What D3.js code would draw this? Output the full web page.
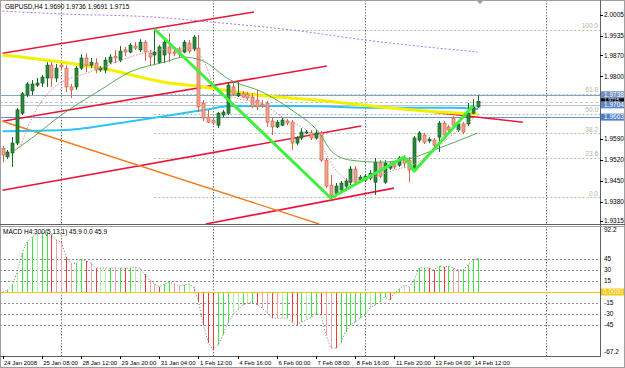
<!DOCTYPE html>
<html><head><meta charset="utf-8">
<script src="https://cdn.jsdelivr.net/npm/d3@7/dist/d3.min.js"></script>
<style>
body{margin:0;background:#fff}
text{font-family:"Liberation Sans",Arial,sans-serif;font-size:6.5px}
text.time{font-size:6px}
</style></head><body>
<svg id="chart" width="625" height="368"></svg>
<script>
// ---- data (GBPUSD H4, 24 Jan - 14 Feb 2008) ----
let open = [1.9559,1.9530,1.9543,1.9576,1.9676,1.9737,1.9751,1.9770,1.9777,1.9794,
	1.9837,1.9794,1.9837,1.9827,1.9764,1.9764,1.9827,1.9861,1.9837,1.9844,1.9821,
	1.9821,1.9847,1.9867,1.9854,1.9888,1.9881,1.9901,1.9888,1.9914,1.9877,
	1.9871,1.9847,1.9871,1.9898,1.9881,1.9888,1.9881,1.9911,1.9891,1.9894,
	1.9710,1.9663,1.9653,1.9636,1.9670,1.9676,1.9764,1.9734,1.9743,1.9740,
	1.9730,1.9720,1.9706,1.9710,1.9650,1.9630,1.9636,1.9650,1.9646,1.9576,1.9593,
	1.9610,1.9610,1.9593,1.9610,1.9519,1.9435,1.9408,1.9419,1.9432,1.9445,
	1.9489,1.9452,1.9452,1.9459,1.9445,1.9509,1.9445,1.9492,1.9506,1.9502,
	1.9526,1.9519,1.9486,1.9586,1.9603,1.9583,1.9586,1.9596,1.9643,1.9630,
	1.9660,1.9620,1.9640,1.9640,1.9676,1.9697]
let high = [1.9566,1.9553,1.9596,1.9694,1.9747,1.9780,1.9787,1.9794,1.9804,1.9847,
	1.9847,1.9841,1.9844,1.9837,1.9774,1.9834,1.9874,1.9877,1.9861,1.9861,1.9834,
	1.9864,1.9874,1.9888,1.9901,1.9898,1.9911,1.9914,1.9924,1.9921,1.9888,
	1.9958,1.9904,1.9921,1.9944,1.9891,1.9898,1.9921,1.9921,1.9938,1.9938,
	1.9720,1.9687,1.9660,1.9680,1.9687,1.9780,1.9780,1.9780,1.9750,1.9747,
	1.9743,1.9754,1.9720,1.9717,1.9663,1.9653,1.9660,1.9656,1.9653,1.9599,1.9626,
	1.9620,1.9620,1.9620,1.9616,1.9526,1.9469,1.9442,1.9449,1.9459,1.9499,
	1.9499,1.9469,1.9472,1.9486,1.9526,1.9519,1.9519,1.9512,1.9512,1.9532,
	1.9536,1.9529,1.9599,1.9616,1.9610,1.9596,1.9593,1.9650,1.9650,1.9636,
	1.9666,1.9646,1.9646,1.9710,1.9723,1.9736]
let low = [1.9512,1.9523,1.9496,1.9569,1.9670,1.9730,1.9737,1.9764,1.9764,1.9764,
	1.9764,1.9780,1.9821,1.9747,1.9727,1.9754,1.9821,1.9814,1.9827,1.9810,1.9814,
	1.9810,1.9841,1.9844,1.9847,1.9867,1.9877,1.9888,1.9881,1.9851,1.9837,
	1.9837,1.9841,1.9844,1.9847,1.9867,1.9864,1.9877,1.9877,1.9884,1.9680,
	1.9650,1.9643,1.9636,1.9626,1.9663,1.9670,1.9734,1.9730,1.9727,1.9720,
	1.9694,1.9687,1.9694,1.9630,1.9603,1.9626,1.9633,1.9636,1.9553,1.9569,1.9586,
	1.9606,1.9586,1.9586,1.9512,1.9425,1.9392,1.9398,1.9412,1.9425,1.9435,
	1.9439,1.9445,1.9445,1.9452,1.9402,1.9459,1.9439,1.9486,1.9489,1.9496,
	1.9492,1.9445,1.9479,1.9579,1.9573,1.9576,1.9563,1.9546,1.9596,1.9613,
	1.9630,1.9613,1.9606,1.9633,1.9673,1.9694]
let close = [1.9536,1.9546,1.9576,1.9687,1.9741,1.9774,1.9774,1.9777,1.9797,1.9837,
	1.9794,1.9827,1.9831,1.9764,1.9754,1.9827,1.9861,1.9837,1.9847,1.9821,1.9827,
	1.9854,1.9864,1.9861,1.9884,1.9881,1.9904,1.9894,1.9914,1.9881,1.9864,
	1.9881,1.9898,1.9914,1.9877,1.9877,1.9874,1.9914,1.9884,1.9931,1.9697,
	1.9660,1.9646,1.9643,1.9676,1.9680,1.9770,1.9740,1.9743,1.9730,1.9727,
	1.9697,1.9697,1.9700,1.9646,1.9630,1.9646,1.9653,1.9643,1.9576,1.9593,1.9613,
	1.9613,1.9593,1.9610,1.9519,1.9432,1.9402,1.9432,1.9442,1.9449,1.9489,
	1.9445,1.9462,1.9465,1.9475,1.9512,1.9465,1.9509,1.9502,1.9496,1.9526,
	1.9509,1.9486,1.9593,1.9610,1.9579,1.9589,1.9569,1.9643,1.9603,1.9620,
	1.9636,1.9640,1.9613,1.9676,1.9697,1.9715]

let macd = [0,2.7,9.5,27.3,53.2,68.2,75,79.1,80.5,81.8,
	77.7,70.9,68.2,47.7,38.2,39.5,45,42.3,39.5,32.7,32.7,
	32.7,32.7,32.7,32.7,32.7,32.7,34.1,32.7,24.5,16.4,
	10.9,6.8,10.9,13.6,10.9,8.2,9.5,10.9,6.8,-13.6,
	-45,-69.5,-79.1,-72.3,-58.6,-42.3,-31.4,-24.5,-17.7,-15,
	-15,-17.7,-22,-28.6,-35.5,-35.5,-35.5,-35.5,-40.9,-45,-40.9,
	-38.2,-34.1,-30,-31.4,-58.6,-76.4,-76.4,-69.5,-54.5,-45,
	-40.9,-35.5,-31.4,-21.8,-17.7,-13.6,-6.8,-10.9,-1.4,4.1,
	9.5,6.8,16.4,32.7,32.7,32.7,30,35.5,34.1,35.5,
	32.7,30,30,36.8,43.6,45.9]
// G bright green, g pale green, R red, r pink
let macdColors = ('GGGgGGGgGG' + 'RrrRrGGRrR' + 'g' + 'gGrGRGggRr' + 'rRGGrrGgrR' + 'RRRGGGggGg' +
	'GR' + 'r' + 'rRrgGRRG' + 'gGGRrrRGGG' + 'GGGgGGGRGG' + 'grGGGRRGRG' + 'rrGGGG').split('')

// indicator lines, [bar, price]
let maYellow = [[0,1.9871],[21,1.9824],[33,1.9780],[41,1.9764],[52,1.9737],[66,1.9717],[77,1.9697],[87,1.9683],[97,1.9673]]
let maCyan = [[0,1.9616],[13,1.9620],[25,1.9646],[33,1.9666],[41,1.9687],[47,1.9700],[61,1.9700],[77,1.9694],[92,1.9694],[97,1.9690]]
let maPurple = [[0,2.0018],[13,2.0008],[31,1.9998],[43,1.9981],[61,1.9951],[74,1.9921],[83,1.9904],[97,1.9881]]
let maGreen = [[2,1.9546],[6,1.9593],[12,1.9670],[20,1.9754],[26,1.9814],[33,1.9847],[37,1.9864],[40.5,1.9854],[46.5,1.9787],[53,1.9747],[59,1.9687],[64.5,1.9613],[67.5,1.9543],[71,1.9519],[77,1.9512],[83.5,1.9526],[87.5,1.9549],[97,1.9610]]
let maPink = [[3.5,1.9559],[6,1.9660],[9,1.9737],[12,1.9780],[16,1.9804],[20,1.9827],[26,1.9864],[32,1.9888],[38.5,1.9894],[41.5,1.9837],[43.5,1.9754],[47.5,1.9727],[53,1.9707],[58,1.9653],[62,1.9620],[65,1.9569],[68,1.9486],[71,1.9452],[75,1.9459],[80,1.9486],[84.5,1.9509],[88.5,1.9559],[92.5,1.9613],[97,1.9670]]
let zigzag = [[31,1.9958],[67,1.9392],[82,1.9529],[84,1.9482],[96,1.9700]]

// trendlines [bar1, price1, bar2, price2, colour]
let trendlines = [
	[0, 1.9877, 51.3, 2.0015, '#e8173c'],
	[0, 1.9649, 66.2, 1.9834, '#e8173c'],
	[0, 1.9418, 73.2, 1.9633, '#e8173c'],
	[41.5, 1.9305, 79.9, 1.9425, '#e8173c'],
	[87.4, 1.9680, 106.2, 1.9646, '#e8173c'],
	[0, 1.9649, 64.6, 1.9305, '#f07c1e']
]

let fibHigh = 1.9955, fibLow = 1.9395, fibStart = 31
let fibLevels = [0, 23.6, 38.2, 50, 61.8, 100]

let hlines = [[1.9738, '#8aa2c2'], [1.9704, '#b4c6da'], [1.9663, '#6f8fc0']]
let bidPrice = 1.9715
let priceBoxes = [[1.9738, '#7090bb'], [1.9704, '#5f88c6'], [1.9663, '#4d7fca']]

let separators = [12, 43, 74, 111]
let priceTicks = [2.0005, 1.9935, 1.9870, 1.9800, 1.9590, 1.9520, 1.9450, 1.9380, 1.9315]
let macdTicks = [45, 30, 15, -15, -30, -45]
let macdMax = '92.2', macdMin = '-67.2'
let timeTicks = [0, 8, 16, 24, 32, 40, 48, 56, 64, 72, 80, 88, 96]
let timeLabels = ['24 Jan 2008', '25 Jan 08:00', '28 Jan 12:00', '29 Jan 20:00', '31 Jan 04:00', '1 Feb 12:00',
	'4 Feb 16:00', '6 Feb 00:00', '7 Feb 08:00', '8 Feb 16:00', '11 Feb 20:00', '13 Feb 04:00', '14 Feb 12:00']

// ---- layout ----
let svg = d3.select('#chart')
let plotR = 600
let mainTop = 0, mainBot = 224, macdTop = 226, macdBot = 356

let x = d3.scaleLinear().domain([0, 97]).range([2.5, 477.8])
let y = d3.scaleLinear().domain([1.9315, 2.0005]).range([221, 15])
let ym = d3.scaleLinear().domain([-45, 45]).range([325, 259])
let px = v => Math.round(x(v)) + 0.5

svg.append('rect').attr('width', 625).attr('height', 368).attr('fill', '#fff')

let defs = svg.append('defs')
defs.append('clipPath').attr('id', 'clipMain').append('rect').attr('x', 1).attr('y', 1).attr('width', plotR - 1).attr('height', mainBot - 1)
defs.append('clipPath').attr('id', 'clipMacd').append('rect').attr('x', 1).attr('y', macdTop + 1).attr('width', plotR - 1).attr('height', macdBot - macdTop - 1)

let main = svg.append('g').attr('clip-path', 'url(#clipMain)')
let sub = svg.append('g').attr('clip-path', 'url(#clipMacd)')

// period separators
;[[main, mainTop, mainBot], [sub, macdTop, macdBot]].forEach(([g, t, b]) => {
	g.selectAll(null).data(separators).enter().append('line')
		.attr('x1', d => Math.round(x(d)) + 0.5).attr('x2', d => Math.round(x(d)) + 0.5)
		.attr('y1', t).attr('y2', b)
		.attr('stroke', '#777').attr('stroke-dasharray', '1.5,1.5')
})

// fibo levels
let fibPrice = l => fibLow + (fibHigh - fibLow) * l / 100
main.selectAll(null).data(fibLevels).enter().append('line')
	.attr('x1', x(fibStart)).attr('x2', plotR)
	.attr('y1', d => Math.round(y(fibPrice(d))) + 0.5).attr('y2', d => Math.round(y(fibPrice(d))) + 0.5)
	.attr('stroke', '#a9c4a9').attr('stroke-dasharray', '2,2')
main.selectAll(null).data(fibLevels).enter().append('text')
	.attr('x', plotR - 2).attr('y', d => y(fibPrice(d)) - 1.5)
	.attr('text-anchor', 'end').attr('fill', '#a3bca3')
	.text(d => d.toFixed(1))

// horizontal lines
main.selectAll(null).data(hlines).enter().append('line')
	.attr('x1', 0).attr('x2', plotR)
	.attr('y1', d => Math.round(y(d[0])) + 0.5).attr('y2', d => Math.round(y(d[0])) + 0.5)
	.attr('stroke', d => d[1])
main.append('line').attr('x1', 0).attr('x2', plotR)
	.attr('y1', Math.round(y(bidPrice)) + 0.5).attr('y2', Math.round(y(bidPrice)) + 0.5)
	.attr('stroke', '#c8c8c8').attr('stroke-dasharray', '3,2')

// trendlines
main.selectAll(null).data(trendlines).enter().append('line')
	.attr('x1', d => x(d[0])).attr('y1', d => y(d[1]))
	.attr('x2', d => x(d[2])).attr('y2', d => y(d[3]))
	.attr('stroke', d => d[4]).attr('stroke-width', d => d[4] == '#f07c1e' ? 1.4 : 1.6)

let line = d3.line().x(d => x(d[0])).y(d => y(d[1])).curve(d3.curveMonotoneX)

main.append('path').attr('d', line(maPurple)).attr('fill', 'none')
	.attr('stroke', '#a878e8').attr('stroke-dasharray', '2,2')
main.append('path').attr('d', line(maCyan)).attr('fill', 'none')
	.attr('stroke', '#2ec4f2').attr('stroke-width', 2)
main.append('path').attr('d', line(maYellow)).attr('fill', 'none')
	.attr('stroke', '#f4f000').attr('stroke-width', 3)

// candles
let idx = d3.range(open.length)
let bull = i => close[i] >= open[i]
let candles = main.selectAll('g.candle').data(idx).enter().append('g').attr('class', 'candle')
candles.append('line')
	.attr('x1', i => px(i)).attr('x2', i => px(i))
	.attr('y1', i => y(high[i])).attr('y2', i => y(low[i]))
	.attr('stroke', i => bull(i) ? '#146a22' : '#d0644c')
candles.append('rect')
	.attr('x', i => Math.round(x(i)) - 1)
	.attr('width', 3)
	.attr('y', i => y(Math.max(open[i], close[i])))
	.attr('height', i => Math.max(1, Math.abs(y(open[i]) - y(close[i]))))
	.attr('fill', i => bull(i) ? '#2a8a3a' : '#f2a48e')
	.attr('stroke', i => bull(i) ? '#145c20' : '#d0644c').attr('stroke-width', 0.7)

main.append('path').attr('d', line(maGreen)).attr('fill', 'none')
	.attr('stroke', '#4aa04a').attr('stroke-width', 0.9)
main.append('path').attr('d', line(maPink)).attr('fill', 'none')
	.attr('stroke', '#d89090').attr('stroke-dasharray', '1.5,1.5')

main.append('path').attr('d', d3.line().x(d => x(d[0])).y(d => y(d[1]))(zigzag))
	.attr('fill', 'none').attr('stroke', '#3ff03f').attr('stroke-width', 3).attr('stroke-linejoin', 'round')

// chart shift marker
svg.append('path').attr('d', 'M477,1 L483,1 L480,4 Z').attr('fill', '#999')

// title
svg.append('text').attr('x', 5).attr('y', 8.5).attr('fill', '#000')
	.text('GBPUSD,H4  1.9690 1.9736 1.9691 1.9715')

// ---- MACD ----
sub.selectAll(null).data(macdTicks).enter().append('line')
	.attr('x1', 0).attr('x2', plotR)
	.attr('y1', d => Math.round(ym(d)) + 0.5).attr('y2', d => Math.round(ym(d)) + 0.5)
	.attr('stroke', '#8c8c8c').attr('stroke-dasharray', '2,2')

let macdFill = { G: '#3ee83e', g: '#aef3a8', R: '#ee3a3a', r: '#f2a2a2' }
sub.selectAll(null).data(idx).enter().append('line')
	.attr('x1', i => px(i)).attr('x2', i => px(i))
	.attr('y1', ym(0)).attr('y2', i => ym(macd[i]))
	.attr('stroke', i => macdFill[macdColors[i]]).attr('stroke-width', 1)

sub.append('path').attr('d', d3.line().x((d, i) => x(i)).y(d => ym(d))(macd))
	.attr('fill', 'none').attr('stroke', '#777').attr('stroke-dasharray', '1,2')

sub.append('line').attr('x1', 0).attr('x2', plotR)
	.attr('y1', Math.round(ym(0)) + 0.5).attr('y2', Math.round(ym(0)) + 0.5)
	.attr('stroke', '#f0c419')

svg.append('text').attr('x', 3).attr('y', macdTop + 8).attr('fill', '#000')
	.text('MACD H4:300(5,13,1) 45.9 0.0 45.9')

// ---- frames ----
svg.append('rect').attr('x', 0.5).attr('y', 0.5).attr('width', 624).attr('height', 367)
	.attr('fill', 'none').attr('stroke', '#a0a0a0')
svg.append('line').attr('x1', plotR + 0.5).attr('x2', plotR + 0.5).attr('y1', 0).attr('y2', macdBot)
	.attr('stroke', '#606060')
svg.append('line').attr('x1', 0).attr('x2', 625).attr('y1', mainBot + 0.5).attr('y2', mainBot + 0.5).attr('stroke', '#606060')
svg.append('line').attr('x1', 0).attr('x2', 625).attr('y1', macdTop + 0.5).attr('y2', macdTop + 0.5).attr('stroke', '#a0a0a0')
svg.append('line').attr('x1', 0).attr('x2', plotR + 1).attr('y1', macdBot + 0.5).attr('y2', macdBot + 0.5).attr('stroke', '#606060')

// ---- price axis ----
let axis = svg.append('g')
axis.selectAll(null).data(priceTicks).enter().append('text')
	.attr('x', 604).attr('y', d => y(d) + 2.3).attr('fill', '#000')
	.text(d => d.toFixed(4))
axis.selectAll(null).data(priceTicks).enter().append('line')
	.attr('x1', plotR).attr('x2', plotR + 3)
	.attr('y1', d => Math.round(y(d)) + 0.5).attr('y2', d => Math.round(y(d)) + 0.5)
	.attr('stroke', '#000')

// bid box sits between the two line labels, mostly covered as in the terminal
let bid = axis.append('g')
bid.append('rect').attr('x', 601).attr('y', y(bidPrice) - 3.5).attr('width', 23).attr('height', 6).attr('fill', '#000')
bid.append('text').attr('x', 604).attr('y', y(bidPrice) + 0.8).attr('fill', '#fff').style('font-size', '5px').text(bidPrice.toFixed(4))
let boxes = axis.selectAll('g.pbox').data(priceBoxes).enter().append('g')
boxes.append('rect').attr('x', 601).attr('y', d => y(d[0]) - 3.5).attr('width', 23).attr('height', 7).attr('fill', d => d[1])
boxes.append('text').attr('x', 604).attr('y', d => y(d[0]) + 2.3).attr('fill', '#fff').text(d => d[0].toFixed(4))

// ---- macd axis ----
axis.selectAll(null).data(macdTicks).enter().append('text')
	.attr('x', 604).attr('y', d => ym(d) + 2.3).attr('fill', '#000')
	.text(d => d)
axis.append('text').attr('x', 604).attr('y', macdTop + 6).attr('fill', '#000').text(macdMax)
axis.append('text').attr('x', 604).attr('y', macdBot - 2).attr('fill', '#000').text(macdMin)
axis.append('rect').attr('x', 601).attr('y', ym(0) - 3.5).attr('width', 23).attr('height', 7).attr('fill', '#f4c81c')
axis.append('text').attr('x', 603).attr('y', ym(0) + 2.3).attr('fill', '#fff8d0').text('0.0000')

// ---- time axis ----
let tax = svg.append('g')
tax.selectAll(null).data(timeTicks).enter().append('line')
	.attr('x1', d => px(d)).attr('x2', d => px(d))
	.attr('y1', macdBot).attr('y2', macdBot + 3)
	.attr('stroke', '#000')
tax.selectAll(null).data(timeTicks).enter().append('text')
	.attr('class', 'time')
	.attr('x', d => x(d) + 1.5).attr('y', 364.5).attr('fill', '#000')
	.text((d, i) => timeLabels[i])
</script>
</body></html>
